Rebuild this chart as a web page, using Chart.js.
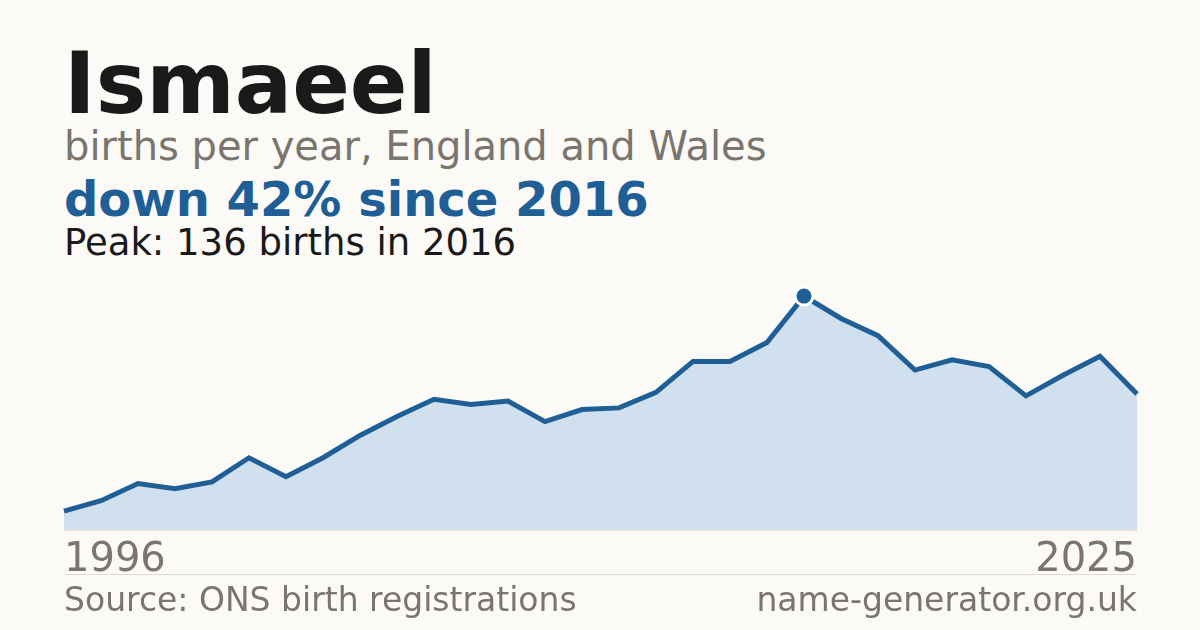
<!DOCTYPE html>
<html>
<head>
<meta charset="utf-8">
<script src="https://cdn.jsdelivr.net/npm/chart.js@4/dist/chart.umd.min.js"></script>
<style>
  html, body { margin: 0; padding: 0; }
  body { width: 1200px; height: 630px; background: #fbfaf6; position: relative; overflow: hidden;
         font-family: "DejaVu Sans", sans-serif; }
  .t { position: absolute; left: 64px; white-space: nowrap; }
  #title { top: 41px; font-size: 85px; line-height: 85px; font-weight: bold; color: #1a1a1a; }
  #sub { top: 126px; font-size: 40px; line-height: 40px; color: #7a756d; }
  #trend { top: 175px; font-size: 48px; line-height: 48px; font-weight: bold; color: #1f5f96; }
  #peak { top: 224px; font-size: 37px; line-height: 37px; color: #1a1a1a; }
  #rule { position: absolute; left: 64px; width: 1073px; top: 574px; height: 1px; background: #dedad2; }
  .foot { position: absolute; top: 583px; font-size: 33px; line-height: 33px; color: #7a756d; white-space: nowrap; }
  #src { left: 64px; }
  #site { right: 63px; }
  #wrap { position: absolute; left: 0; top: 0; width: 1200px; height: 630px; }
</style>
</head>
<body>
<div class="t" id="title">Ismaeel</div>
<div class="t" id="sub">births per year, England and Wales</div>
<div class="t" id="trend">down 42% since 2016</div>
<div class="t" id="peak">Peak: 136 births in 2016</div>
<div id="wrap"><canvas id="chart" width="1200" height="630"></canvas></div>
<div id="rule"></div>
<div class="foot" id="src">Source: ONS birth registrations</div>
<div class="foot" id="site">name-generator.org.uk</div>
<script>
const years = [1996, 1997, 1998, 1999, 2000, 2001, 2002, 2003, 2004, 2005,
               2006, 2007, 2008, 2009, 2010, 2011, 2012, 2013, 2014, 2015,
               2016, 2017, 2018, 2019, 2020, 2021, 2022, 2023, 2024, 2025];
const births = [11, 17, 27, 24, 28, 42, 31, 42, 55, 66,
                76, 73, 75, 63, 70, 71, 80, 98, 98, 109,
                136, 123, 113, 93, 99, 95, 78, 90, 101, 79];
const peakYear = 2016;

const blue = '#1f5f96';
const peakIdx = years.indexOf(peakYear);

var ctx = document.getElementById('chart').getContext('2d');

const chart = new Chart(ctx, {
  type: 'line',
  data: {
    labels: years,
    datasets: [{
      data: births,
      borderColor: blue,
      borderWidth: 5,
      backgroundColor: '#d0e0ef',
      fill: 'origin',
      tension: 0,
      clip: false,
      pointRadius: years.map((y, i) => i === peakIdx ? 9 : 0),
      pointHoverRadius: 0,
      pointBackgroundColor: blue,
      pointBorderColor: '#ffffff',
      pointBorderWidth: 3
    }]
  },
  options: {
    responsive: false,
    animation: false,
    events: [],
    layout: { padding: { left: 64, right: 63, top: 272, bottom: 38 } },
    scales: {
      x: {
        offset: false,
        grid: { display: false, drawTicks: false },
        border: { display: true, color: '#e6e0d6', width: 1 },
        ticks: {
          autoSkip: false,
          maxRotation: 0,
          align: 'inner',
          padding: 7,
          color: '#7a756d',
          font: { family: 'DejaVu Sans', size: 40 },
          callback: function(value, index) {
            return (index === 0 || index === years.length - 1) ? years[index] : '';
          }
        }
      },
      y: {
        display: false,
        min: 0,
        max: 150
      }
    },
    plugins: {
      legend: { display: false },
      tooltip: { enabled: false }
    }
  }
});
</script>
</body>
</html>
